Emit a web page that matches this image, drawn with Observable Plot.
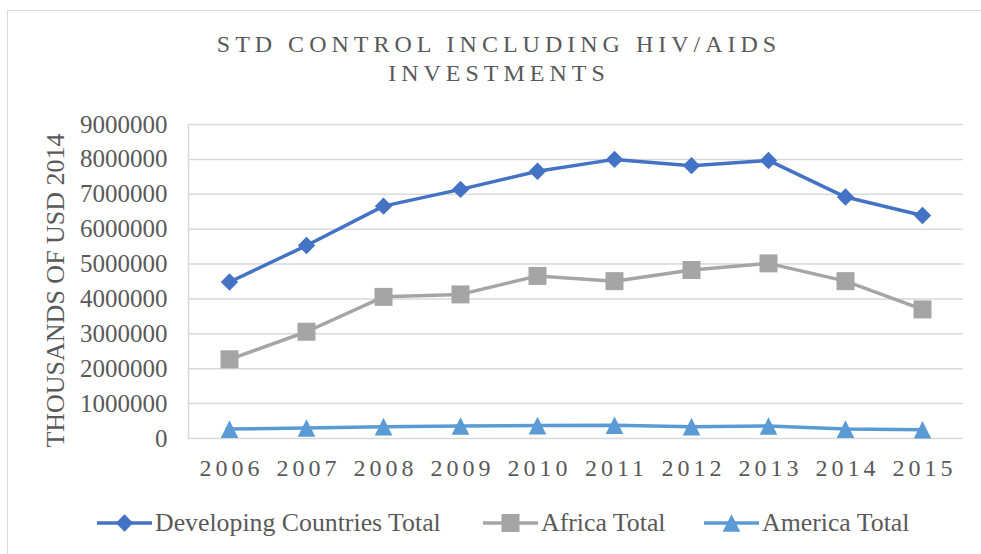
<!DOCTYPE html>
<html>
<head>
<meta charset="utf-8">
<script src="https://cdn.jsdelivr.net/npm/d3@7"></script>
<script src="https://cdn.jsdelivr.net/npm/@observablehq/plot@0.6"></script>
<style>
  html, body { margin: 0; padding: 0; background: #fff; width: 981px; height: 554px; overflow: hidden; }
  body { position: relative; font-family: "Liberation Serif", "DejaVu Serif", serif; color: #595959; }
  #border { position: absolute; left: 7px; top: 10px; width: 1100px; height: 700px; border-left: 1.5px solid #d9d9d9; border-top: 1.5px solid #d9d9d9; box-sizing: border-box; }
  #chart { position: absolute; left: 0; top: 0; }
  #title { position: absolute; left: 0; top: 30px; width: 998px; text-align: center; font-size: 24px; letter-spacing: 5px; line-height: 29px; color: #595959; }
  .leg { position: absolute; top: 509px; height: 28px; display: flex; align-items: center; font-size: 25.8px; color: #595959; white-space: nowrap; }
  .leg svg { margin-right: 3px; }
  #chart text { font-family: "Liberation Serif", serif; }
  #chart g[aria-label="x-axis tick label"] text { letter-spacing: 4px; }
</style>
</head>
<body>
<div id="border"></div>
<div id="chart"></div>
<div id="title">STD CONTROL INCLUDING HIV/AIDS<br>INVESTMENTS</div>
<div id="legend"></div>
<script>
const years = [2006, 2007, 2008, 2009, 2010, 2011, 2012, 2013, 2014, 2015];
const developing = [4485000, 5530000, 6660000, 7140000, 7660000, 8000000, 7820000, 7970000, 6920000, 6390000];
const africa = [2270000, 3060000, 4060000, 4130000, 4660000, 4510000, 4830000, 5020000, 4510000, 3700000];
const america = [270000, 300000, 340000, 360000, 370000, 380000, 340000, 360000, 270000, 250000];
const seriesNames = ["Developing Countries Total", "Africa Total", "America Total"];
const seriesColors = ["#4472C4", "#A5A5A5", "#5B9BD5"];
const yTicks = [0, 1000000, 2000000, 3000000, 4000000, 5000000, 6000000, 7000000, 8000000, 9000000];
const yLabel = "THOUSANDS OF USD 2014";

const diamond = {draw(ctx, size) { const s = Math.sqrt(size / Math.PI); ctx.moveTo(0, -s); ctx.lineTo(s, 0); ctx.lineTo(0, s); ctx.lineTo(-s, 0); ctx.closePath(); }};
const square = {draw(ctx, size) { const s = Math.sqrt(size / Math.PI); ctx.rect(-s, -s, 2 * s, 2 * s); }};
const triangle = {draw(ctx, size) { const s = Math.sqrt(size / Math.PI); ctx.moveTo(0, -s); ctx.lineTo(s, s); ctx.lineTo(-s, s); ctx.closePath(); }};
const symbols = [diamond, square, triangle];
const radii = [8.7, 9, 8.8];

const seriesValues = [developing, africa, america];
const rows = [];
seriesValues.forEach((vals, i) => vals.forEach((v, j) => rows.push({series: seriesNames[i], year: years[j], value: v, idx: i})));

const marks = [
  Plot.gridY(yTicks, {stroke: "#d9d9d9", strokeOpacity: 1, strokeWidth: 1.5}),
  Plot.frame({anchor: "left", stroke: "#d9d9d9", strokeWidth: 1.5}),
  Plot.axisY(yTicks, {tickSize: 0, tickPadding: 21, fontSize: 25, tickFormat: d => String(d), label: null}),
  Plot.axisX(years, {tickSize: 0, tickPadding: 20, fontSize: 24, tickFormat: d => String(d), label: null, dx: 2}),
  Plot.text([yLabel], {frameAnchor: "left", dx: -133, dy: 9, rotate: -90, textAnchor: "middle", lineAnchor: "middle", fontSize: 26, fill: "#595959"})
];
seriesNames.forEach((name, i) => {
  const data = rows.filter(d => d.idx === i);
  marks.push(Plot.line(data, {x: "year", y: "value", stroke: seriesColors[i], strokeWidth: 3.5}));
});
seriesNames.forEach((name, i) => {
  const data = rows.filter(d => d.idx === i);
  marks.push(Plot.dot(data, {x: "year", y: "value", symbol: () => symbols[i], r: radii[i], fill: seriesColors[i], stroke: "none"}));
});

const chart = Plot.plot({
  width: 981,
  height: 554,
  marginTop: 124,
  marginBottom: 116,
  marginLeft: 188,
  marginRight: 18,
  style: {fontFamily: "Liberation Serif", fontSize: "24px", color: "#595959", background: "transparent"},
  x: {type: "point", domain: years, padding: 0.5},
  y: {domain: [0, 9000000]},
  symbol: {type: "identity"},
  marks
});
document.getElementById("chart").appendChild(chart);

// legend
const legendLeft = [97, 483, 704];
const legendEl = document.getElementById("legend");
seriesNames.forEach((name, i) => {
  const item = document.createElement("div");
  item.className = "leg";
  item.style.left = legendLeft[i] + "px";
  const ns = "http://www.w3.org/2000/svg";
  const svg = document.createElementNS(ns, "svg");
  svg.setAttribute("width", 55); svg.setAttribute("height", 22);
  const line = document.createElementNS(ns, "line");
  line.setAttribute("x1", 0); line.setAttribute("x2", 55); line.setAttribute("y1", 11); line.setAttribute("y2", 11);
  line.setAttribute("stroke", seriesColors[i]); line.setAttribute("stroke-width", 3.5);
  svg.appendChild(line);
  const p = d3.path();
  symbols[i].draw(p, Math.PI * radii[i] * radii[i]);
  const path = document.createElementNS(ns, "path");
  path.setAttribute("d", p.toString());
  path.setAttribute("transform", "translate(27.5,11)");
  path.setAttribute("fill", seriesColors[i]);
  svg.appendChild(path);
  item.appendChild(svg);
  const span = document.createElement("span");
  span.textContent = name;
  item.appendChild(span);
  legendEl.appendChild(item);
});
</script>
</body>
</html>
